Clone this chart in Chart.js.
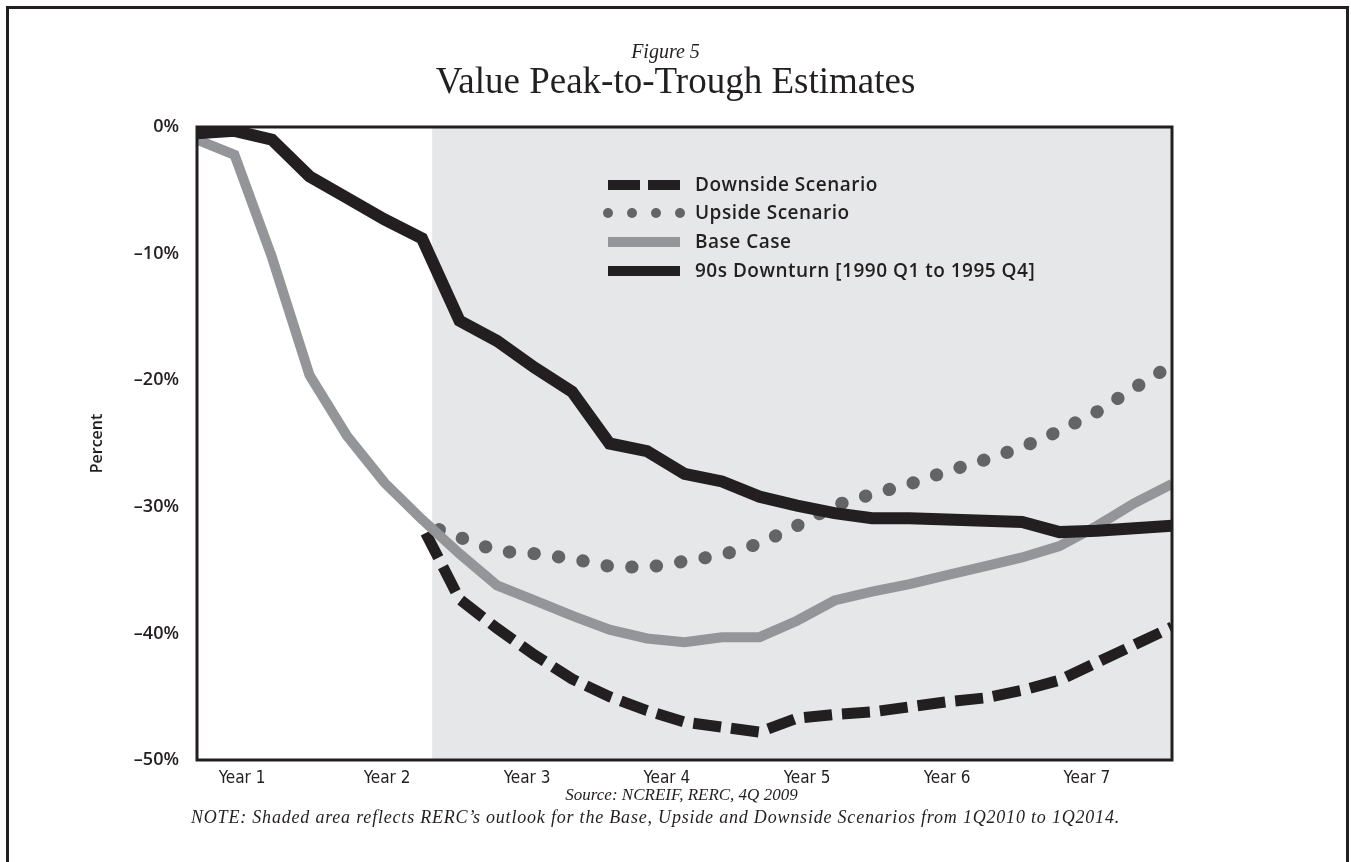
<!DOCTYPE html>
<html>
<head>
<meta charset="utf-8">
<script src="https://cdn.jsdelivr.net/npm/chart.js@4.4.1/dist/chart.umd.min.js"></script>
<style>
  body { margin: 0; background: #fff; width: 1351px; height: 862px; overflow: hidden; position: relative; }
  #frame { position: absolute; left: 6px; top: 6px; width: 1337px; height: 900px; border: 3px solid #231f20; }
  #wrap { position: absolute; left: 0; top: 0; width: 1351px; height: 862px; }
  .txt { position: absolute; left: 0; width: 1351px; text-align: center; color: #231f20; font-family: "Liberation Serif", serif; line-height: 1; white-space: nowrap; }
  #fig { top: 41px; font-size: 20px; font-style: italic; left: -10px; }
  #title { top: 62px; font-size: 37px; }
  #source { top: 786px; font-size: 17px; font-style: italic; left: 6px; }
  #note { top: 808px; font-size: 18px; font-style: italic; letter-spacing: 0.8px; left: -20px; }
</style>
</head>
<body>
<div id="frame"></div>
<div id="wrap"><canvas id="myChart"></canvas></div>
<div class="txt" id="fig">Figure 5</div>
<div class="txt" id="title">Value Peak-to-Trough Estimates</div>
<div class="txt" id="source">Source: NCREIF, RERC, 4Q 2009</div>
<div class="txt" id="note">NOTE: Shaded area reflects RERC’s outlook for the Base, Upside and Downside Scenarios from 1Q2010 to 1Q2014.</div>
<script>
/*==== data (quarterly, % change from peak) ====*/
const yearLabels = ['Year 1', 'Year 2', 'Year 3', 'Year 4', 'Year 5', 'Year 6', 'Year 7'];
// where each year label sits on the quarter axis
const yearTickPos = [1.2, 5.07, 8.8, 12.53, 16.27, 20, 23.73];
// forecast shading starts here (quarter index)
const shadeFrom = 6.27;

const downturn90s = [-0.5, -0.3, -1.0, -3.9, -5.6, -7.3, -8.8, -15.3, -16.9, -19.0, -20.9, -25.0, -25.6, -27.4,
    -28.0, -29.2, -29.9, -30.5, -30.9, -30.9, -31.0, -31.1, -31.2, -32.0, -31.9, -31.7, -31.5];
const baseCase = [-1.0, -2.2, -10.3, -19.6, -24.4, -28.1, -31.0, -33.7, -36.2, -37.4, -38.6, -39.7, -40.4, -40.7,
    -40.3, -40.3, -39.0, -37.4, -36.7, -36.1, -35.4, -34.7, -34.0, -33.1, -31.5, -29.7, -28.2];
const downside = [null, null, null, null, null, null, -31.5, -37.3, -39.6, -41.7, -43.6, -45.0, -46.1, -47.0,
    -47.4, -47.8, -46.7, -46.4, -46.2, -45.8, -45.4, -45.1, -44.5, -43.7, -42.3, -40.9, -39.5];
const upside = [null, null, null, null, null, null, -31.3, -32.4, -33.5, -33.7, -34.1, -34.7, -34.8, -34.3,
    -33.8, -32.9, -31.5, -29.9, -29.0, -28.2, -27.2, -26.3, -25.3, -24.0, -22.5, -20.6, -18.8];

const toPoints = arr => arr.map((v, i) => ({ x: i, y: v }));

const INK = '#231f20';

/*==== plugins ====*/
const shadePlugin = {
    id: 'shade',
    beforeDatasetsDraw(chart) {
        const { ctx, chartArea, scales } = chart;
        const x0 = scales.x.getPixelForValue(shadeFrom);
        ctx.save();
        ctx.fillStyle = '#e6e7e8';
        ctx.fillRect(x0, chartArea.top, chartArea.right - x0, chartArea.bottom - chartArea.top);
        ctx.restore();
    },
    afterDatasetsDraw(chart) {
        const { ctx, chartArea } = chart;
        ctx.save();
        ctx.strokeStyle = INK;
        ctx.lineWidth = 3;
        ctx.strokeRect(chartArea.left, chartArea.top, chartArea.right - chartArea.left, chartArea.bottom - chartArea.top);
        ctx.restore();
    }
};

// legend drawn inside the plot, sample styles taken from the datasets
const legendPlugin = {
    id: 'innerLegend',
    afterDatasetsDraw(chart) {
        const ctx = chart.ctx;
        const sx = 608, sw = 72, tx = 695;
        const rows = [185, 213, 242, 271];
        ctx.save();
        ctx.font = '600 19px "Open Sans", sans-serif';
        ctx.letterSpacing = '0.5px';
        ctx.textBaseline = 'middle';
        chart.data.datasets.forEach((ds, i) => {
            const y = rows[i];
            ctx.fillStyle = ds.borderColor;
            if (ds.legendKind === 'dash') {
                ctx.fillRect(sx, y - 5, 32, 10);
                ctx.fillRect(sx + 40, y - 5, 32, 10);
            } else if (ds.legendKind === 'dot') {
                for (let k = 0; k < 4; k++) {
                    ctx.beginPath();
                    ctx.arc(sx + k * 24, y, 5, 0, Math.PI * 2);
                    ctx.fill();
                }
            } else {
                ctx.fillRect(sx, y - 5, sw, 10);
            }
            ctx.fillStyle = INK;
            ctx.fillText(ds.label, tx, y + 1);
        });
        ctx.restore();
    }
};

/*==== config ====*/
const config = {
    type: 'line',
    data: {
        datasets: [
            {
                label: 'Downside Scenario',
                data: toPoints(downside),
                borderColor: INK,
                borderWidth: 11,
                borderDash: [28, 10],
                borderDashOffset: 30,
                legendKind: 'dash',
                order: 2
            },
            {
                label: 'Upside Scenario',
                data: toPoints(upside),
                borderColor: '#636466',
                borderWidth: 13,
                borderDash: [0.5, 24.2],
                borderDashOffset: 6.5,
                borderCapStyle: 'round',
                legendKind: 'dot',
                order: 3
            },
            {
                label: 'Base Case',
                data: toPoints(baseCase),
                borderColor: '#939598',
                borderWidth: 10,
                legendKind: 'solid',
                order: 1
            },
            {
                label: '90s Downturn [1990 Q1 to 1995 Q4]',
                data: toPoints(downturn90s),
                borderColor: INK,
                borderWidth: 12,
                legendKind: 'solid',
                order: 0
            }
        ]
    },
    options: {
        responsive: true,
        maintainAspectRatio: false,
        animation: false,
        layout: { padding: { top: 127, left: 85, right: 179, bottom: 72 } },
        elements: {
            line: { tension: 0, fill: false },
            point: { radius: 0, hoverRadius: 0 }
        },
        plugins: {
            legend: { display: false },
            tooltip: { enabled: false }
        },
        scales: {
            x: {
                type: 'linear',
                min: 0,
                max: 26,
                grid: { display: false, drawTicks: false },
                border: { display: false },
                afterBuildTicks: scale => {
                    scale.ticks = yearTickPos.map(v => ({ value: v }));
                },
                afterFit: scale => { scale.height = 30; },
                ticks: {
                    padding: 8,
                    color: INK,
                    maxRotation: 0,
                    autoSkip: false,
                    font: { family: '"DejaVu Sans Condensed", "Liberation Sans Narrow", sans-serif', size: 17 },
                    callback: (value, index) => yearLabels[index]
                }
            },
            y: {
                min: -50,
                max: 0,
                grid: { display: false, drawTicks: false },
                border: { display: false },
                afterFit: scale => { scale.width = 112; },
                ticks: {
                    stepSize: 10,
                    padding: 18,
                    color: INK,
                    font: { family: '"Open Sans", sans-serif', size: 18, weight: '600' },
                    callback: v => v === 0 ? '0%' : '\u2013' + Math.abs(v) + '%'
                },
                title: {
                    display: true,
                    text: 'Percent',
                    color: INK,
                    padding: { top: 3, bottom: 0 },
                    font: { family: '"Open Sans", sans-serif', size: 16, weight: '600' }
                }
            }
        }
    },
    plugins: [shadePlugin, legendPlugin]
};

/*===== render =====*/
const myChart = new Chart(document.getElementById('myChart'), config);
</script>
</body>
</html>
